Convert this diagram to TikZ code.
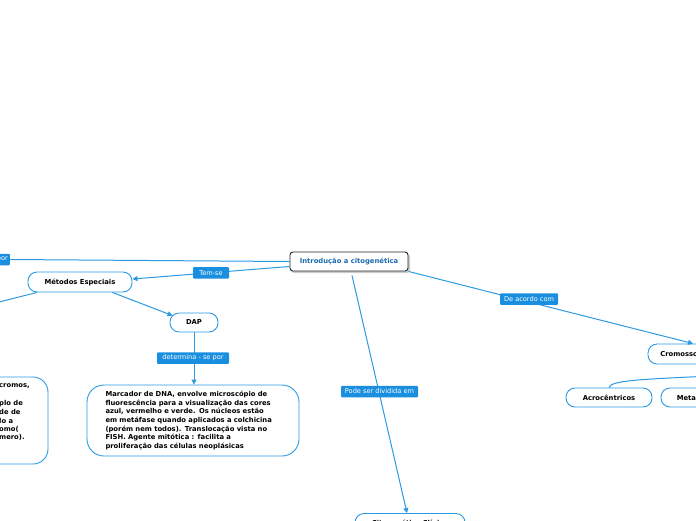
\documentclass[tikz,border=0pt]{standalone}
\usepackage{fontspec}
\setmainfont{DejaVu Sans}
\usetikzlibrary{arrows.meta}
\definecolor{lineblue}{HTML}{2B9AE3}
\definecolor{labelblue}{HTML}{1B8FDF}
\definecolor{titleblue}{HTML}{1B6BB0}
\begin{document}
\begin{tikzpicture}[x=1pt,y=-1pt,
  topic/.style={draw=lineblue, line width=0.9pt, rounded corners=9pt, fill=white,
    font=\fontsize{6.8}{8.7}\selectfont\bfseries, inner sep=0pt},
  lab/.style={fill=labelblue, text=white, font=\fontsize{6.6}{7}\selectfont,
    inner sep=0pt, minimum height=11.5pt, rounded corners=1pt},
  frag/.style={font=\fontsize{6.8}{8.7}\selectfont\bfseries, inner sep=0pt, anchor=west},
  conn/.style={draw=lineblue, line width=1pt},
  arr/.style={conn, -{Triangle[length=5pt,width=5pt]}}]
\useasboundingbox (0,0) rectangle (696,520);
\clip (0,0) rectangle (696,520);

% nodes
\fill[black!20, rounded corners=3pt] (291,254) rectangle (410,273);
\node[topic, draw=black!85, rounded corners=3pt, text=titleblue, minimum width=118pt, minimum height=19pt] (intro) at (349,261.5) {Introdução a citogenética};
\node[topic, minimum width=104pt, minimum height=20pt] (met) at (80,282) {Métodos Especiais};
\node[topic, minimum width=48pt, minimum height=19pt] (dap) at (194,322.5) {DAP};
\node[topic, minimum width=212pt, minimum height=71pt, rounded corners=17pt, text width=175pt, align=left] (big) at (193,420.5) {Marcador de DNA, envolve microscópio de\\
fluorescência para a visualização das cores\\
azul, vermelho e verde. Os núcleos estão\\
em metáfase quando aplicados a colchicina\\
(porém nem todos). Translocação vista no\\
FISH. Agente mitótica : facilita a\\
proliferação das células neoplásicas};
\node[topic, minimum width=200pt, minimum height=87pt, rounded corners=15pt] (leftbox) at (-52,420.5) {};
\node[frag] (f1) at (-1,386.5) {cromos,};
\node[frag] (f2) at (-1,403.5) {plo de};
\node[frag] (f3) at (-1,412) {de de};
\node[frag] (f4) at (-1,420.5) {lo a};
\node[frag] (f5) at (-1,429) {omo(};
\node[frag] (f6) at (-1,437.5) {mero).};
\node[topic, minimum width=110pt, minimum height=20pt] (clin) at (410,523.5) {Citogenética Clínica};
\node[topic, minimum width=78pt, minimum height=20pt] (crom) at (687,354) {Cromossomos};
\node[topic, minimum width=86pt, minimum height=19pt] (acro) at (609,397.5) {Acrocêntricos};
\node[topic, minimum width=86pt, minimum height=19pt] (meta) at (704,397.5) {Metacêntricos};
\coordinate (ml) at (-5,303);
\coordinate (cromb) at (760,374);

% labels
\node[lab, inner xsep=2pt, anchor=east] (por) at (10,259.5) {por};

% connectors
\draw[conn] (intro.west) -- (por.east);
\draw[arr] ([yshift=-5pt]intro.west) -- ([yshift=3pt]met.east)
  node[lab, minimum width=36pt, pos=0.5] (tem) {Tem-se};
\draw[conn] ([xshift=-43pt]met.south) -- (ml);
\draw[arr] ([xshift=-20pt]met.south east) -- ([xshift=3pt,yshift=-3pt]dap.north west);
\draw[arr] (dap.south) -- (big.north -| dap.south);
\node[lab, minimum width=72pt] (det) at (193,358) {determina - se por};
\draw[arr] ([xshift=3pt,yshift=-4pt]intro.south) -- ([xshift=-3pt]clin.north);
\node[lab, minimum width=77pt] (pode) at (379.5,391.5) {Pode ser dividida em};
\draw[arr] (intro.south east) -- ([xshift=6pt]crom.north);
\node[lab, minimum width=58pt] (acordo) at (529,299) {De acordo com};
\draw[conn] (acro.north) .. controls (611,380) and (640,379) .. (cromb);
\end{tikzpicture}
\end{document}
